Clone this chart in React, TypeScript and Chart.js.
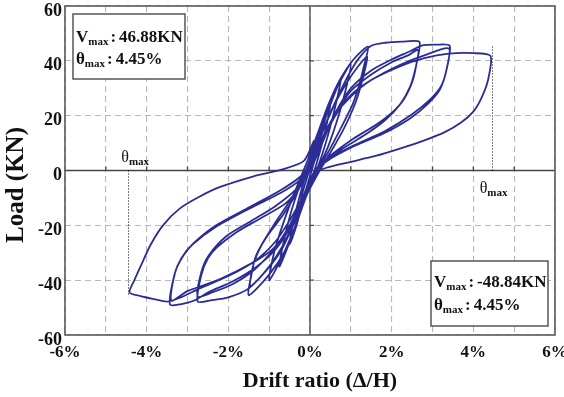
import React, { useEffect, useRef } from 'react';
import { Chart, registerables } from 'chart.js';

Chart.register(...registerables);

type Pt = [number, number];

// Drift ratio (%) , Load (kN) — hysteresis cycles in loading order
const cycle1: Pt[] = [[0, 0], [0.1, 5], [0.2, 10], [0.26, 13], [0.2, 8], [0.1, 3], [0, -2], [-0.1, -7], [-0.2, -11], [-0.26, -14], [-0.2, -9], [-0.1, -4], [0, 1]];
const cycle2: Pt[] = [[0.1, 6], [0.25, 13], [0.4, 20], [0.5, 25], [0.44, 19], [0.3, 10], [0.15, 2], [0, -5], [-0.2, -13], [-0.35, -21], [-0.5, -27], [-0.44, -21], [-0.3, -12], [-0.15, -4], [0, 3]];
const cycle3: Pt[] = [[0.15, 9], [0.35, 18], [0.55, 26], [0.75, 33], [0.66, 26], [0.48, 15], [0.28, 5], [0.08, -3], [-0.15, -11], [-0.4, -22], [-0.6, -30], [-0.75, -35], [-0.66, -27], [-0.48, -16], [-0.24, -5], [0, 4]];
const cycle4: Pt[] = [[0.2, 13], [0.45, 23], [0.72, 32], [1.0, 39], [0.9, 31], [0.72, 21], [0.45, 9], [0.18, 0], [-0.08, -9], [-0.38, -21], [-0.7, -32], [-1.0, -40], [-0.88, -30], [-0.65, -19], [-0.35, -7], [-0.05, 4]];
const cycle5: Pt[] = [[0.2, 14], [0.45, 24], [0.73, 33], [1.06, 40.4], [1.42, 45.2], [1.32, 38], [1.2, 31], [1.04, 24], [0.74, 15], [0.42, 6], [0.18, 0], [-0.05, -7], [-0.32, -19], [-0.6, -29], [-1.0, -38], [-1.5, -45.5], [-1.42, -37], [-1.32, -31], [-1.05, -24], [-0.65, -16], [-0.28, -7], [0, 2]];
const cycle6: Pt[] = [[0.28, 13], [0.6, 24], [0.9, 32], [1.18, 38], [1.4, 41.5], [1.3, 34], [1.12, 25], [0.82, 15], [0.48, 6], [0.2, -1], [-0.05, -8], [-0.35, -18], [-0.7, -29], [-1.1, -37], [-1.46, -42], [-1.38, -34], [-1.18, -27], [-0.85, -19], [-0.45, -10], [-0.05, 1]];
const cycle7: Pt[] = [[0.3, 14], [0.62, 25], [0.95, 35], [1.2, 41], [1.5, 45.5], [1.85, 46.6], [2.25, 47], [2.68, 46.9], [2.62, 40], [2.52, 33], [2.3, 26], [2.0, 21], [1.6, 16.5], [1.05, 11.5], [0.55, 6], [0.2, 1], [-0.05, -7], [-0.35, -17], [-0.65, -27], [-1.0, -35], [-1.5, -43], [-2.0, -46.3], [-2.4, -47.3], [-2.75, -47.8], [-2.66, -38], [-2.5, -32], [-2.28, -28], [-1.8, -22.5], [-1.22, -17.5], [-0.6, -12], [-0.2, -5], [0.02, 2]];
const cycle8: Pt[] = [[0.3, 11], [0.65, 21], [1.0, 29], [1.5, 35], [2.0, 39.5], [2.4, 42], [2.65, 44], [2.58, 37], [2.45, 30.5], [2.2, 24], [1.85, 18.5], [1.35, 13], [0.8, 8], [0.35, 3], [0.08, -2], [-0.15, -9], [-0.45, -19], [-0.85, -28], [-1.35, -36], [-1.9, -41.5], [-2.4, -44.5], [-2.75, -46], [-2.66, -37], [-2.48, -31], [-2.05, -24], [-1.45, -18.5], [-0.85, -13], [-0.35, -7], [0, 0]];
const cycle9: Pt[] = [[0.3, 10], [0.62, 21], [1.0, 30], [1.5, 36.5], [2.0, 40.5], [2.45, 43.5], [2.75, 45.6], [3.1, 45.9], [3.42, 45.5], [3.36, 38], [3.22, 31], [2.95, 26], [2.5, 20.5], [1.85, 14.5], [1.05, 9], [0.45, 4.2], [0.12, 0], [-0.1, -7], [-0.4, -18], [-0.8, -28], [-1.3, -35], [-1.9, -40.5], [-2.5, -44.5], [-2.85, -47.5], [-3.15, -48.7], [-3.43, -48.9], [-3.32, -38], [-3.15, -32], [-2.88, -27], [-2.3, -20.5], [-1.5, -14], [-0.7, -8], [-0.25, -3.5], [0, 2]];
const cycle10: Pt[] = [[0.3, 11], [0.62, 20], [1.0, 27.5], [1.5, 33], [2.2, 38.5], [2.8, 42], [3.4, 44.5], [3.34, 36.5], [3.18, 29.5], [2.9, 24.5], [2.45, 19], [1.8, 13.5], [1.0, 8.3], [0.4, 3.3], [0.1, -1], [-0.12, -8], [-0.5, -20], [-0.9, -28.5], [-1.4, -33.6], [-2.2, -39.6], [-3.0, -44], [-3.4, -47.5], [-3.3, -37], [-3.1, -31], [-2.85, -26.5], [-2.3, -20], [-1.5, -13.5], [-0.7, -7], [-0.22, -2], [0.02, 3]];
const cycle11: Pt[] = [[0.3, 12], [0.62, 20.5], [1.0, 27], [1.5, 33], [2.2, 38], [2.8, 41], [3.4, 42.6], [4.0, 42.8], [4.42, 41.8], [4.36, 33], [4.2, 26.5], [4.0, 21.5], [3.7, 17.5], [3.3, 14], [2.8, 11], [2.2, 8], [1.6, 5.3], [0.95, 3], [0.4, 1], [0.12, -1], [-0.12, -8], [-0.45, -17], [-0.85, -26], [-1.35, -33], [-2.0, -38.5], [-2.7, -43], [-3.2, -46.5], [-3.5, -47.8], [-3.85, -46.8], [-4.15, -45.8], [-4.42, -44.5], [-4.3, -40], [-4.15, -35], [-3.9, -27], [-3.6, -20], [-3.2, -14], [-2.7, -9.5], [-2.2, -6], [-1.4, -2.2], [-0.7, 0.3], [-0.15, 3.5], [0.1, 11]];

const cycles: Pt[][] = [cycle1, cycle2, cycle3, cycle4, cycle5, cycle6, cycle7, cycle8, cycle9, cycle10, cycle11];

const xMin = -6;
const xMax = 6;
const yMin = -60;
const yMax = 60;
const thetaMaxPos = 4.45;
const thetaMaxNeg = -4.45;
const vMaxPosLabel = '46.88KN';
const vMaxNegLabel = '-48.84KN';
const thetaLabel = '4.45%';

const SERIF = '"Liberation Serif", "Times New Roman", serif';
const CURVE = '#2b2d94';

function drawSubLabel(ctx: CanvasRenderingContext2D, x: number, base: number, sym: string, value: string | null, symFont: string, subFont: string) {
  ctx.font = symFont;
  ctx.fillText(sym, x, base);
  let cx = x + ctx.measureText(sym).width;
  ctx.font = subFont;
  ctx.fillText('max', cx, base + 3);
  cx += ctx.measureText('max').width;
  if (value !== null) {
    ctx.font = symFont;
    ctx.fillText(':', cx + 2, base);
    cx += 2 + ctx.measureText(':').width + 3;
    ctx.fillText(value, cx, base);
  }
}

const decor = {
  id: 'decor',
  beforeDatasetsDraw(chart: any) {
    const { ctx, chartArea: a, scales } = chart;
    const x = scales.x;
    const y = scales.y;
    const x0 = x.getPixelForValue(0);
    const y0 = y.getPixelForValue(0);
    ctx.save();
    ctx.strokeStyle = '#454545';
    ctx.lineWidth = 1.3;
    ctx.beginPath();
    ctx.moveTo(a.left, y0);
    ctx.lineTo(a.right, y0);
    ctx.moveTo(x0, a.top);
    ctx.lineTo(x0, a.bottom);
    for (let v = xMin + 1; v < xMax; v++) {
      const px = x.getPixelForValue(v);
      ctx.moveTo(px, y0);
      ctx.lineTo(px, y0 - 4);
    }
    for (let v = yMin + 20; v < yMax; v += 20) {
      const py = y.getPixelForValue(v);
      ctx.moveTo(x0, py);
      ctx.lineTo(x0 + 4, py);
    }
    ctx.stroke();
    // dotted theta_max lines
    ctx.strokeStyle = '#000';
    ctx.lineWidth = 1;
    ctx.setLineDash([1, 2]);
    ctx.beginPath();
    const pl = Math.round(x.getPixelForValue(thetaMaxNeg)) + 0.5;
    ctx.moveTo(pl, y0);
    ctx.lineTo(pl, y.getPixelForValue(-46));
    const pr = Math.round(x.getPixelForValue(thetaMaxPos)) + 0.5;
    ctx.moveTo(pr, y0);
    ctx.lineTo(pr, y.getPixelForValue(45.5));
    ctx.stroke();
    ctx.setLineDash([]);
    // frame
    ctx.strokeStyle = '#5a5a5a';
    ctx.lineWidth = 1.6;
    ctx.strokeRect(a.left, a.top, a.right - a.left, a.bottom - a.top);
    ctx.restore();
  },
  afterDraw(chart: any) {
    const { ctx, chartArea: a, scales } = chart;
    const x = scales.x;
    const y = scales.y;
    const y0 = y.getPixelForValue(0);
    ctx.save();
    ctx.fillStyle = '#111';
    ctx.textAlign = 'left';
    ctx.textBaseline = 'alphabetic';
    const big = `bold 17px ${SERIF}`;
    const sub = `bold 11px ${SERIF}`;
    // box top-left
    const b1x = a.left + 8, b1y = a.top + 8, b1w = 112, b1h = 65;
    ctx.fillStyle = '#fff';
    ctx.fillRect(b1x, b1y, b1w, b1h);
    ctx.strokeStyle = '#4a4a4a';
    ctx.lineWidth = 1.4;
    ctx.strokeRect(b1x, b1y, b1w, b1h);
    ctx.fillStyle = '#111';
    drawSubLabel(ctx, b1x + 3, b1y + 28, 'V', vMaxPosLabel, big, sub);
    drawSubLabel(ctx, b1x + 3, b1y + 50, 'θ', thetaLabel, big, sub);
    // box bottom-right
    const b2w = 117, b2h = 65;
    const b2x = a.right - 124, b2y = a.bottom - 74;
    ctx.fillStyle = '#fff';
    ctx.fillRect(b2x, b2y, b2w, b2h);
    ctx.strokeRect(b2x, b2y, b2w, b2h);
    ctx.fillStyle = '#111';
    drawSubLabel(ctx, b2x + 3, b2y + 26, 'V', vMaxNegLabel, big, sub);
    drawSubLabel(ctx, b2x + 3, b2y + 49, 'θ', thetaLabel, big, sub);
    // theta max labels
    const thFont = `16px ${SERIF}`;
    const thSub = `bold 11px ${SERIF}`;
    drawSubLabel(ctx, x.getPixelForValue(thetaMaxNeg) - 7, y0 - 9, 'θ', null, thFont, thSub);
    drawSubLabel(ctx, x.getPixelForValue(thetaMaxPos) - 12, y0 + 22, 'θ', null, thFont, thSub);
    // axis titles
    ctx.font = `bold 22px ${SERIF}`;
    ctx.textAlign = 'center';
    ctx.fillText('Drift ratio (Δ/H)', 320, 387);
    ctx.save();
    ctx.translate(17, 185);
    ctx.rotate(-Math.PI / 2);
    ctx.font = `bold 25px ${SERIF}`;
    ctx.textBaseline = 'middle';
    ctx.fillText('Load (KN)', 0, 0);
    ctx.restore();
    ctx.restore();
  },
};

export default function App() {
  const ref = useRef<HTMLCanvasElement | null>(null);
  useEffect(() => {
    if (!ref.current) return;
    const points = cycles.flat().map(([dx, ld]) => ({ x: dx, y: ld }));
    const chart = new Chart(ref.current, {
      type: 'scatter',
      data: {
        datasets: [
          {
            data: points,
            showLine: true,
            borderColor: CURVE,
            borderWidth: 1.8,
            pointRadius: 0,
            tension: 0.25,
            fill: false,
          },
        ],
      },
      options: {
        responsive: false,
        animation: false,
        events: [],
        layout: { padding: { top: 6, right: 9, bottom: 0, left: 0 } },
        plugins: { legend: { display: false }, tooltip: { enabled: false } },
        scales: {
          x: {
            type: 'linear',
            min: xMin,
            max: xMax,
            border: { display: false, dash: [6, 4] },
            grid: { color: '#b8b8b8', lineWidth: 1.1, drawTicks: false },
            ticks: {
              stepSize: 1,
              autoSkip: false,
              maxRotation: 0,
              padding: 7,
              color: '#111',
              font: { family: SERIF, size: 17, weight: 'bold' },
              callback: (v: any) => (Number(v) % 2 === 0 ? `${v}%` : ''),
            },
            afterFit: (s: any) => {
              s.height = 62;
              s.paddingLeft = 0;
              s.paddingRight = 0;
            },
          },
          y: {
            type: 'linear',
            min: yMin,
            max: yMax,
            border: { display: false, dash: [6, 4] },
            grid: { color: '#b8b8b8', lineWidth: 1.1, drawTicks: false },
            ticks: {
              stepSize: 20,
              padding: 3,
              labelOffset: 5,
              color: '#111',
              font: { family: SERIF, size: 18, weight: 'bold' },
            },
            afterFit: (s: any) => {
              s.width = 65;
              s.paddingTop = 0;
              s.paddingBottom = 0;
            },
          },
        },
      } as any,
      plugins: [decor],
    });
    return () => chart.destroy();
  }, []);
  return (
    <div style={{ position: 'fixed', left: 0, top: 0, width: 564, height: 397, background: '#fff' }}>
      <canvas ref={ref} width={564} height={397} />
    </div>
  );
}
